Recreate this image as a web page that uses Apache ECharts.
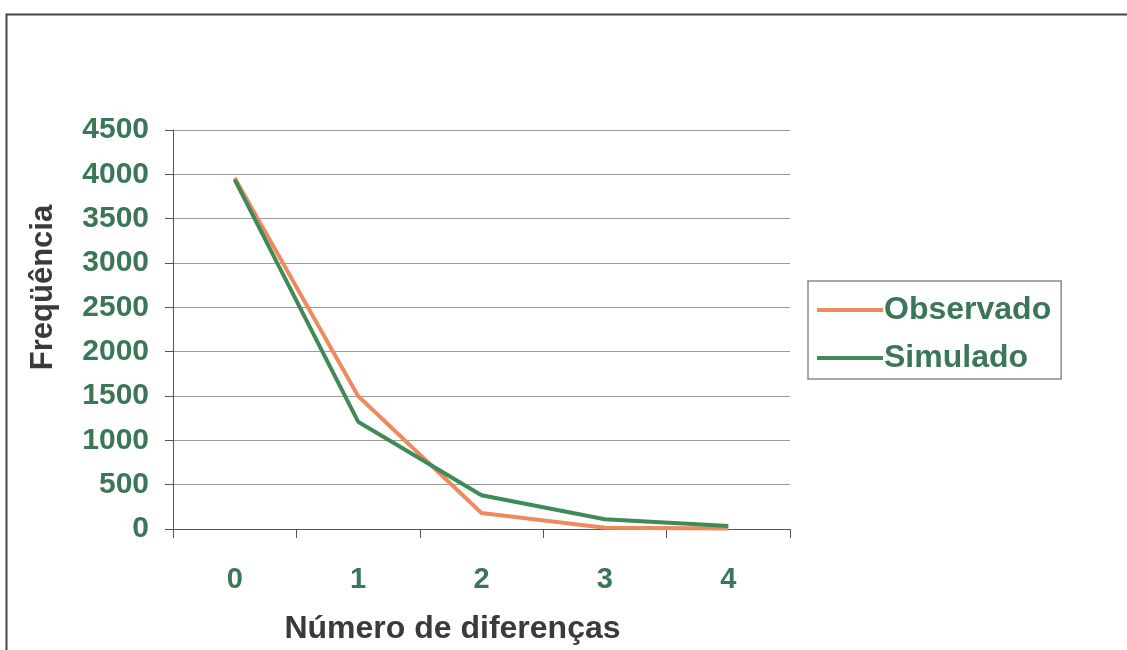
<!DOCTYPE html>
<html>
<head>
<meta charset="utf-8">
<script src="https://cdn.jsdelivr.net/npm/echarts@6/dist/echarts.min.js"></script>
<style>
  html, body { margin: 0; padding: 0; background: #ffffff; }
  #chart { width: 1127px; height: 650px; }
</style>
</head>
<body>
<div id="chart"></div>
<script>
// Frequency of the number of differences: observed vs simulated
const categories = ['0', '1', '2', '3', '4'];
const observado = [3960, 1500, 180, 15, 5];
const simulado = [3940, 1210, 380, 110, 35];
const yTicks = { min: 0, max: 4500, interval: 500 };

const labelGreen = '#3b7656';
const titleGray = '#3a3a3a';
const font = 'Liberation Sans, Arial, sans-serif';

const chart = echarts.init(document.getElementById('chart'), null, { renderer: 'canvas' });

chart.setOption({
  backgroundColor: '#ffffff',
  animation: false,
  graphic: [{
    type: 'rect',
    shape: { x: 6.5, y: 14.5, width: 1140, height: 660 },
    style: { fill: 'none', stroke: '#454545', lineWidth: 2 },
    silent: true
  }],
  grid: { left: 173, right: 337, top: 130, bottom: 119, containLabel: false },
  legend: {
    orient: 'vertical',
    left: 808,
    top: 281,
    padding: [13, 10, 5, 9],
    itemGap: 16,
    itemWidth: 66,
    itemHeight: 4,
    icon: 'rect',
    borderColor: '#8a8a8a',
    borderWidth: 1.5,
    textStyle: { color: labelGreen, fontFamily: font, fontWeight: 'bold', fontSize: 32, padding: [0, 0, 0, -4] },
    data: ['Observado', 'Simulado']
  },
  xAxis: {
    type: 'category',
    data: categories,
    boundaryGap: true,
    name: 'Número de diferenças',
    nameLocation: 'middle',
    nameGap: 84,
    nameTextStyle: {
      color: titleGray, fontFamily: font, fontWeight: 'bold', fontSize: 32,
      padding: [0, 58, 0, 0]
    },
    axisLine: { lineStyle: { color: '#555555', width: 1 } },
    axisTick: { show: true, length: 9, lineStyle: { color: '#555555' } },
    axisLabel: { color: labelGreen, fontFamily: font, fontWeight: 'bold', fontSize: 29, margin: 36 },
    splitLine: { show: false }
  },
  yAxis: {
    type: 'value',
    min: yTicks.min,
    max: yTicks.max,
    interval: yTicks.interval,
    name: 'Freqüência',
    nameLocation: 'middle',
    nameRotate: 90,
    nameGap: 130,
    nameTextStyle: {
      color: titleGray, fontFamily: font, fontWeight: 'bold', fontSize: 31,
      verticalAlign: 'middle', padding: [0, 0, 0, 84]
    },
    axisLine: { show: true, lineStyle: { color: '#555555', width: 1 } },
    axisTick: { show: true, length: 8, lineStyle: { color: '#555555' } },
    axisLabel: {
      color: labelGreen, fontFamily: font, fontWeight: 'bold', fontSize: 30, margin: 24,
      formatter: (v) => String(v)
    },
    splitLine: { show: true, lineStyle: { color: '#9a9a9a', width: 1.2 } }
  },
  series: [
    {
      name: 'Observado',
      type: 'line',
      data: observado,
      symbol: 'none',
      lineStyle: { color: '#ef8a5e', width: 4 },
      itemStyle: { color: '#ef8a5e' },
      z: 2
    },
    {
      name: 'Simulado',
      type: 'line',
      data: simulado,
      symbol: 'none',
      lineStyle: { color: '#3f8a56', width: 4 },
      itemStyle: { color: '#3f8a56' },
      z: 3
    }
  ]
});
</script>
</body>
</html>
